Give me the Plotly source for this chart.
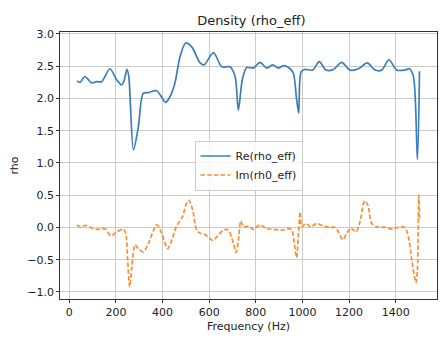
import plotly.graph_objects as go

freq_re = [33, 46, 67, 96, 117, 139, 174, 203, 224, 234, 247, 255, 275, 296, 317, 339, 375, 413, 432, 453,
           475, 499, 525, 561, 578, 618, 654, 689, 711, 725, 742, 761, 789, 818, 847, 872, 897, 921, 947, 961,
           975, 984, 994, 1011, 1044, 1072, 1101, 1133, 1168, 1204, 1240, 1278, 1311, 1340, 1371, 1404, 1440,
           1459, 1476, 1493, 1502]
re_rho = [2.27, 2.25, 2.34, 2.24, 2.26, 2.26, 2.46, 2.29, 2.21, 2.26, 2.45, 2.34, 1.20, 1.56, 2.08, 2.09, 2.12,
          1.94, 2.03, 2.24, 2.65, 2.86, 2.80, 2.55, 2.52, 2.71, 2.49, 2.49, 2.34, 1.82, 2.29, 2.48, 2.47, 2.56,
          2.47, 2.52, 2.47, 2.51, 2.46, 2.39, 1.98, 1.77, 2.41, 2.45, 2.44, 2.57, 2.44, 2.45, 2.56, 2.44, 2.46,
          2.55, 2.44, 2.44, 2.60, 2.44, 2.44, 2.46, 2.34, 1.05, 2.42]

freq_im = [33, 46, 72, 103, 132, 153, 179, 203, 232, 242, 250, 259, 268, 282, 296, 317, 339, 375, 396, 422,
           439, 460, 486, 500, 513, 529, 546, 561, 582, 615, 639, 661, 682, 704, 715, 725, 735, 747, 768, 789,
           818, 847, 875, 918, 940, 954, 965, 975, 982, 990, 997, 1015, 1035, 1061, 1090, 1118, 1140, 1154,
           1173, 1190, 1207, 1230, 1247, 1266, 1280, 1297, 1318, 1361, 1386, 1410, 1439, 1454, 1469, 1487,
           1493, 1499, 1502]
im_rho = [0.04, 0.01, 0.03, -0.02, -0.03, -0.02, -0.13, -0.07, -0.03, -0.09, -0.51, -0.92, -0.61, -0.27,
          -0.33, -0.38, -0.25, 0.04, -0.09, -0.33, -0.20, 0.02, 0.17, 0.35, 0.42, 0.27, -0.04, -0.09, -0.11,
          -0.20, -0.12, -0.04, -0.04, -0.25, -0.39, -0.20, 0.10, 0.01, 0.02, -0.03, 0.04, -0.02, -0.03, -0.04,
          -0.02, -0.04, -0.25, -0.47, -0.14, 0.24, 0.01, 0.06, 0.01, 0.06, 0.02, 0.0, 0.0, -0.07, -0.19, -0.09,
          -0.01, -0.07, 0.09, 0.41, 0.35, 0.06, 0.01, 0.0, -0.03, 0.0, 0.0, -0.14, -0.51, -0.86, -0.66, 0.50,
          0.14]

x_ticks = [0, 200, 400, 600, 800, 1000, 1200, 1400]
y_ticks = [-1.0, -0.5, 0.0, 0.5, 1.0, 1.5, 2.0, 2.5, 3.0]

fig = go.Figure()
fig.add_trace(go.Scatter(x=freq_re, y=re_rho, mode="lines", name="Re(rho_eff)",
                         line=dict(color="#3a7fbd", width=1.7, shape="spline", smoothing=0.8)))
fig.add_trace(go.Scatter(x=freq_im, y=im_rho, mode="lines", name="Im(rh0_eff)",
                         line=dict(color="#f88e34", width=1.7, dash="4.5px,2.2px", shape="spline", smoothing=0.8)))

axis_common = dict(showgrid=True, gridcolor="#cbcbcb", gridwidth=0.9, showline=True, linecolor="#333",
                   linewidth=0.8, mirror=True, ticks="outside", ticklen=3, tickcolor="#333", zeroline=False,
                   tickfont=dict(size=11, color="#222"))
fig.update_layout(
    width=441, height=339,
    margin=dict(l=60, r=4, t=32, b=40),
    paper_bgcolor="white", plot_bgcolor="white",
    font=dict(family="DejaVu Sans", color="#222"),
    title=dict(text="Density (rho_eff)", x=0.57, xanchor="center", y=0.94, yanchor="middle",
               font=dict(size=13, color="#222")),
    showlegend=True,
    legend=dict(x=0.5, y=0.5, xanchor="center", yanchor="middle", bgcolor="rgba(255,255,255,0.8)",
                bordercolor="#cccccc", borderwidth=1, font=dict(size=11, color="#222")),
)
fig.update_xaxes(range=[-40, 1577], tickvals=x_ticks, ticktext=[str(t) for t in x_ticks],
                 title=dict(text="Frequency (Hz)", font=dict(size=11), standoff=4), **axis_common)
fig.update_yaxes(range=[-1.11, 3.03], tickvals=y_ticks, tickformat=".1f",
                 title=dict(text="rho", font=dict(size=11), standoff=6), **axis_common)

fig.write_html("out.html")
